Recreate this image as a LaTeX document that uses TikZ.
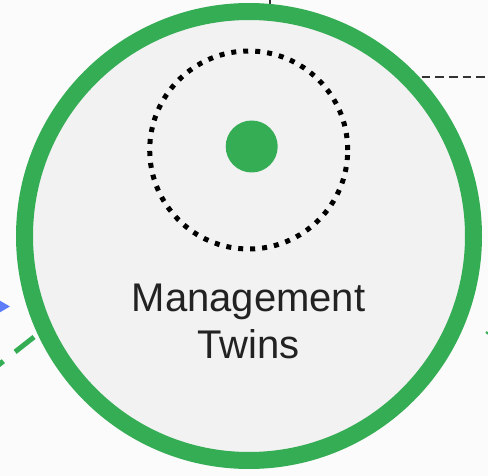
\documentclass[tikz,border=0pt]{standalone}
\usepackage{fontspec}
\setmainfont{Liberation Sans}
\usetikzlibrary{arrows.meta}
\definecolor{ringgreen}{RGB}{52,173,84}
\definecolor{innergray}{RGB}{242,242,242}
\definecolor{bggray}{RGB}{251,251,251}
\definecolor{arrowblue}{RGB}{92,124,250}
\definecolor{textdark}{RGB}{34,34,34}
\definecolor{linedark}{RGB}{51,51,51}
\tikzset{
  ring/.style={circle, draw=ringgreen, line width=17pt, fill=innergray, minimum size=449pt, inner sep=0pt},
  dotring/.style={circle, draw=black, line width=5pt, dash pattern=on 5pt off 7pt, minimum size=198pt, inner sep=0pt},
  core/.style={circle, fill=ringgreen, minimum size=52pt, inner sep=0pt},
  caption/.style={font=\fontsize{40}{47}\selectfont, text=textdark, align=center},
  bluelink/.style={draw=arrowblue, line width=2pt, -{Triangle[length=10pt,width=11pt]}},
  greenlink/.style={draw=ringgreen, line width=5pt, dash pattern=on 24pt off 15pt, dash phase=20.5pt},
  blacklink/.style={draw=linedark, line width=2pt, dash pattern=on 8.7pt off 5pt},
  thinlink/.style={draw=linedark, line width=2pt},
  greenstub/.style={draw=ringgreen, line width=2pt}
}
\begin{document}
\begin{tikzpicture}[x=1pt,y=-1pt]
\fill[bggray] (0,0) rectangle (488,476);
\useasboundingbox (0,0) rectangle (488,476);
% connectors (mostly outside the frame)
\coordinate (gstart) at (-30,387.5);
\coordinate (gend) at (34,337);
\draw[greenlink] (gstart) -- (gend);
\coordinate (bstart) at (-30,306.5);
\coordinate (bend) at (10,306.5);
\draw[bluelink] (bstart) -- (bend);
\coordinate (tstart) at (270,-10);
\coordinate (tend) at (270,10);
\draw[thinlink] (tstart) -- (tend);
\coordinate (rstart) at (494,338);
\coordinate (rend) at (486,332);
\draw[greenstub] (rstart) -- (rend);
% main ring
\node[ring] (twin) at (249,236) {};
\coordinate (dstart) at (421.5,77.3);
\coordinate (dend) at (500,77.3);
\draw[blacklink] (dstart) -- (dend);
\node[dotring] (orbit) at (248.7,150) {};
\node[core] (dot) at (251.7,146.5) {};
\node[caption, anchor=base] (label) at (248.5,358) {Management\\Twins};
\end{tikzpicture}
\end{document}
